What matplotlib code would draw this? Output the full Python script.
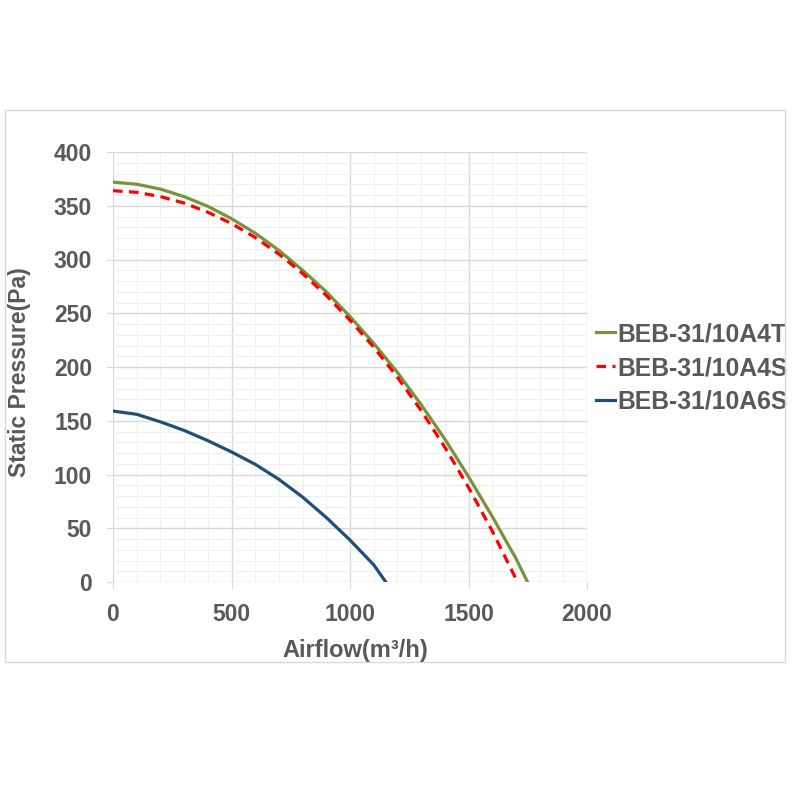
import matplotlib
matplotlib.use("Agg")
import matplotlib.pyplot as plt
from matplotlib.patches import Rectangle
from matplotlib.ticker import MultipleLocator

# curve readings (airflow m3/h, static pressure Pa)
flow_a4t = [0, 100, 200, 300, 400, 500, 600, 700, 800, 900, 1000, 1100, 1200,
            1300, 1400, 1500, 1600, 1700, 1749]
pres_a4t = [372, 370, 365.5, 358.5, 349.5, 338, 324.5, 308.5, 290, 270, 247,
            222, 195, 165, 133, 98, 61, 22, 0]

flow_a4s = [0, 100, 200, 300, 400, 500, 600, 700, 800, 900, 1000, 1100, 1200,
            1300, 1400, 1500, 1600, 1700, 1705]
pres_a4s = [364, 362.5, 358.5, 352.5, 344, 333.5, 320.5, 305, 287, 266.5,
            243.5, 218.5, 190.5, 159.5, 125.5, 88, 47.5, 3, 0]

flow_a6s = [0, 100, 200, 300, 400, 500, 600, 700, 800, 900, 1000, 1100, 1151]
pres_a6s = [159, 156, 149, 141, 131.5, 121, 109.5, 95.5, 79, 60, 39, 16, 0]

labels = ["BEB-31/10A4T", "BEB-31/10A4S", "BEB-31/10A6S"]
colors = ["#77933C", "#FF0000", "#1F4E79"]

TXT = "#595959"
plt.rcParams["font.family"] = ["Liberation Sans", "DejaVu Sans"]

fig = plt.figure(figsize=(8, 8), dpi=100)
fig.patches.append(Rectangle((5 / 800, 1 - 662 / 800), 780 / 800, 552 / 800,
                             transform=fig.transFigure, fill=False,
                             edgecolor="#D9D9D9", linewidth=1))

ax = fig.add_axes([113 / 800, 1 - 582 / 800, 474 / 800, 430 / 800])

ax.plot(flow_a4t, pres_a4t, color=colors[0], lw=2.3, label=labels[0])
ax.plot(flow_a4s, pres_a4s, color=colors[1], lw=2.3, ls=(0, (3, 2)), label=labels[1])
ax.plot(flow_a6s, pres_a6s, color=colors[2], lw=2.3, label=labels[2])

ax.set_xlim(0, 2000)
ax.set_ylim(0, 400)
ax.xaxis.set_major_locator(MultipleLocator(500))
ax.xaxis.set_minor_locator(MultipleLocator(100))
ax.yaxis.set_major_locator(MultipleLocator(50))
ax.yaxis.set_minor_locator(MultipleLocator(10))
ax.grid(which="major", color="#D9D9D9", lw=1)
ax.grid(which="minor", color="#F0F0F0", lw=0.8)
ax.set_axisbelow(True)
for s in ax.spines.values():
    s.set_visible(False)

ax.tick_params(which="major", length=5, color="#D9D9D9", pad=10,
               labelsize=16.5, labelcolor=TXT)
ax.tick_params(which="minor", length=0)
for lab in ax.get_xticklabels() + ax.get_yticklabels():
    lab.set_fontweight("bold")

fig.text(355 / 800, 1 - 650 / 800, "Airflow(m³/h)", ha="center", va="center",
         fontsize=17, fontweight="bold", color=TXT)
fig.text(20 / 800, 1 - 372 / 800, "Static Pressure(Pa)", ha="center", va="center",
         rotation=90, fontsize=16.5, fontweight="bold", color=TXT)

leg = ax.legend(loc="center left", bbox_to_anchor=(596 / 800, 1 - 368 / 800),
                bbox_transform=fig.transFigure, frameon=False, borderpad=0,
                borderaxespad=0, handlelength=0.75, handletextpad=0.1,
                labelspacing=0.4, prop={"size": 17.8, "weight": "bold"})
for t in leg.get_texts():
    t.set_color(TXT)

fig.savefig("out.png", dpi=100, facecolor="white")
